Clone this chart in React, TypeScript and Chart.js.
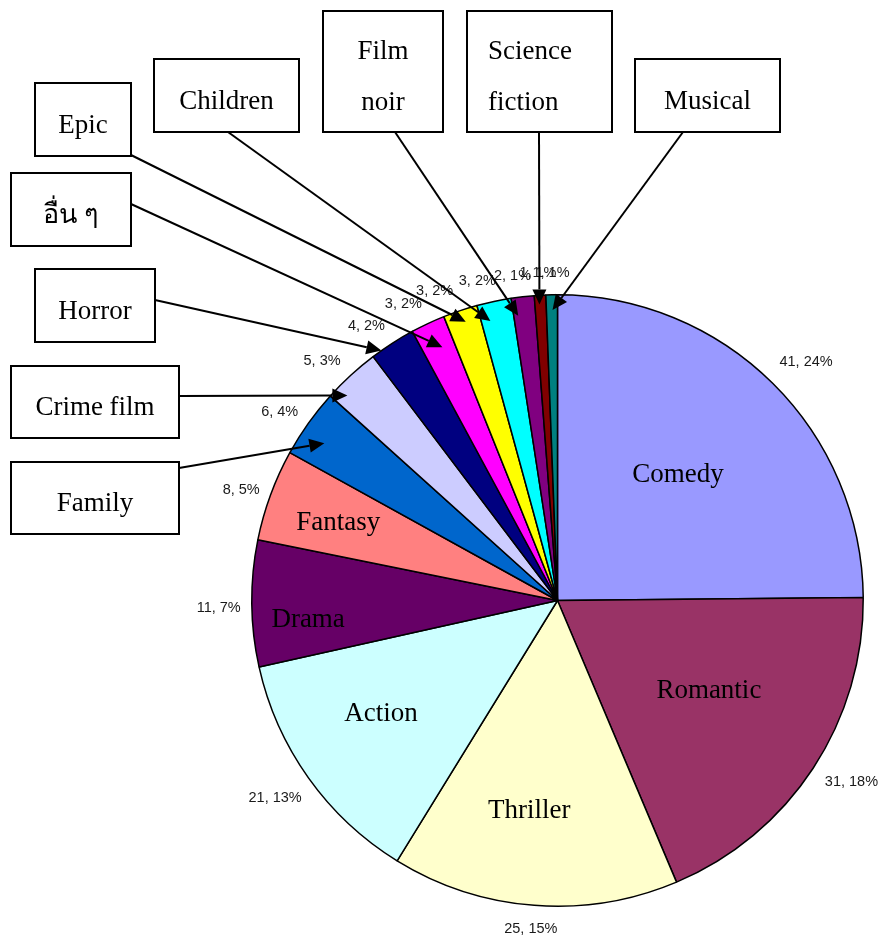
import React, { useEffect, useRef } from "react";
import { Chart, registerables } from "chart.js";

Chart.register(...registerables);

// ---- data ----
const categories = [
  "Comedy",
  "Romantic",
  "Thriller",
  "Action",
  "Drama",
  "Fantasy",
  "Family",
  "Crime film",
  "Horror",
  "อื่น ๆ",
  "Epic",
  "Children",
  "Film noir",
  "Science fiction",
  "Musical",
];
const counts = [41, 31, 25, 21, 11, 8, 6, 5, 4, 3, 3, 3, 2, 1, 1];
const percentLabels = [24, 18, 15, 13, 7, 5, 4, 3, 2, 2, 2, 2, 1, 1, 1];

// ---- styles ----
const sliceColors = [
  "#9999FF",
  "#993366",
  "#FFFFCC",
  "#CCFFFF",
  "#660066",
  "#FF8080",
  "#0066CC",
  "#CCCCFF",
  "#000080",
  "#FF00FF",
  "#FFFF00",
  "#00FFFF",
  "#800080",
  "#800000",
  "#008080",
];

const SERIF = '27px "Liberation Serif", "Times New Roman", "DejaVu Serif", serif';
const SANS = '14.5px "Liberation Sans", Arial, "DejaVu Sans", sans-serif';
const VALUE_GAP = 18;

// small position tweaks of the outside value labels (layout only)
const valueLabelNudge: [number, number][] = [
  [2, -4],
  [1, 1],
  [0, 0],
  [3, 6],
  [7, 4],
  [5, 3],
  [1, 3],
  [-4, 3],
  [-6, 3],
  [-9, 2],
  [-14, 3],
  [-9, 3],
  [-6, 3],
  [0, 2],
  [0, 2],
];

// [angular fraction within slice, radius fraction] for labels inside big slices
const innerLabelPos: Record<string, [number, number]> = {
  Comedy: [0.49, 0.569],
  Romantic: [0.465, 0.577],
  Thriller: [0.561, 0.693],
  Action: [0.56, 0.686],
  Drama: [0.34, 0.818],
  Fantasy: [0.46, 0.761],
};

type Callout = {
  box: [number, number, number, number];
  anchor: [number, number];
  at: [number, number]; // [angular fraction within slice, radius fraction]
  lines?: string[];
  align?: "left" | "center";
  textX?: number;
};

// callout boxes (layout only)
const callouts: Record<string, Callout> = {
  Family: { box: [11, 462, 168, 72], anchor: [179, 468], at: [0.39, 0.92] },
  "Crime film": { box: [11, 366, 168, 72], anchor: [179, 396], at: [0.21, 0.96] },
  Horror: { box: [35, 269, 120, 73], anchor: [155, 300], at: [0.22, 1.0] },
  "อื่น ๆ": { box: [11, 173, 120, 73], anchor: [131, 204], at: [0.6, 0.91] },
  Epic: { box: [35, 83, 96, 73], anchor: [131, 155], at: [0.55, 0.96] },
  Children: { box: [154, 59, 145, 73], anchor: [228, 132], at: [0.27, 0.94] },
  "Film noir": {
    box: [323, 11, 120, 121],
    anchor: [395, 132],
    at: [0.2, 0.94],
    lines: ["Film", "noir"],
  },
  "Science fiction": {
    box: [467, 11, 145, 121],
    anchor: [539, 132],
    at: [0.4, 0.97],
    lines: ["Science", "fiction"],
    align: "left",
    textX: 488,
  },
  Musical: { box: [635, 59, 145, 73], anchor: [683, 132], at: [0.55, 0.95] },
};

const labelPlugin = {
  id: "excelLabels",
  afterDatasetsDraw(chart: any) {
    const ctx: CanvasRenderingContext2D = chart.ctx;
    const meta = chart.getDatasetMeta(0);
    ctx.save();

    // value labels outside the pie
    ctx.font = SANS;
    ctx.fillStyle = "#1a1a1a";
    ctx.textAlign = "center";
    ctx.textBaseline = "middle";
    meta.data.forEach((arc: any, i: number) => {
      const { x, y, startAngle, endAngle, outerRadius } = arc.getProps(
        ["x", "y", "startAngle", "endAngle", "outerRadius"],
        true
      );
      const mid = (startAngle + endAngle) / 2;
      const dx = Math.cos(mid);
      const dy = Math.sin(mid);
      const text = `${counts[i]}, ${percentLabels[i]}%`;
      const w = ctx.measureText(text).width;
      const h = 12;
      const r = outerRadius + VALUE_GAP;
      const [nx, ny] = valueLabelNudge[i] || [0, 0];
      ctx.fillText(text, x + r * dx + (dx * w) / 2 + nx, y + r * dy + (dy * h) / 2 + ny);
    });

    // labels inside the big slices
    ctx.font = SERIF;
    ctx.fillStyle = "#000";
    meta.data.forEach((arc: any, i: number) => {
      const p = innerLabelPos[categories[i]];
      if (!p) return;
      const { x, y, startAngle, endAngle, outerRadius } = arc.getProps(
        ["x", "y", "startAngle", "endAngle", "outerRadius"],
        true
      );
      const a = startAngle + (endAngle - startAngle) * p[0];
      const r = p[1] * outerRadius;
      ctx.fillText(categories[i], x + r * Math.cos(a), y + r * Math.sin(a));
    });

    // callouts with arrows
    ctx.lineWidth = 2;
    ctx.strokeStyle = "#000";
    ctx.textBaseline = "alphabetic";
    Object.keys(callouts).forEach((name) => {
      const co = callouts[name];
      const i = categories.indexOf(name);
      if (i < 0) return;
      const arc = meta.data[i];
      const { x, y, startAngle, endAngle, outerRadius } = arc.getProps(
        ["x", "y", "startAngle", "endAngle", "outerRadius"],
        true
      );
      const a = startAngle + (endAngle - startAngle) * co.at[0];
      const tr = outerRadius * co.at[1];
      const tx = x + tr * Math.cos(a);
      const ty = y + tr * Math.sin(a);

      const [bx, by, bw, bh] = co.box;
      ctx.fillStyle = "#fff";
      ctx.fillRect(bx, by, bw, bh);
      ctx.strokeRect(bx, by, bw, bh);

      ctx.fillStyle = "#000";
      const lines = co.lines || [name];
      const lh = 51;
      const cy = by + bh / 2;
      const top = cy - (lines.length * lh) / 2;
      lines.forEach((ln, k) => {
        const by2 = top + k * lh + 38.5;
        if (co.align === "left") {
          ctx.textAlign = "left";
          ctx.fillText(ln, co.textX ?? bx + 10, by2);
        } else {
          ctx.textAlign = "center";
          ctx.fillText(ln, bx + bw / 2, by2);
        }
      });

      const [ax, ay] = co.anchor;
      const ang = Math.atan2(ty - ay, tx - ax);
      const L = 15;
      const HW = 7;
      const bpx = tx - L * Math.cos(ang);
      const bpy = ty - L * Math.sin(ang);
      ctx.beginPath();
      ctx.moveTo(ax, ay);
      ctx.lineTo(bpx, bpy);
      ctx.stroke();
      ctx.beginPath();
      ctx.moveTo(tx, ty);
      ctx.lineTo(bpx + HW * Math.sin(ang), bpy - HW * Math.cos(ang));
      ctx.lineTo(bpx - HW * Math.sin(ang), bpy + HW * Math.cos(ang));
      ctx.closePath();
      ctx.fill();
    });

    ctx.restore();
  },
};

export default function App() {
  const ref = useRef<HTMLCanvasElement>(null);

  useEffect(() => {
    const canvas = ref.current;
    if (!canvas) return;
    const chart = new Chart(canvas, {
      type: "pie",
      data: {
        labels: categories,
        datasets: [
          {
            data: counts,
            backgroundColor: sliceColors,
            borderColor: "#000",
            borderWidth: 1.5,
          },
        ],
      },
      options: {
        responsive: false,
        animation: false,
        layout: { padding: { left: 251, top: 294, right: 16, bottom: 28 } },
        plugins: {
          legend: { display: false },
          tooltip: { enabled: false },
        },
      },
      plugins: [labelPlugin],
    } as any);
    return () => chart.destroy();
  }, []);

  return (
    <div
      style={{
        position: "absolute",
        left: 0,
        top: 0,
        width: 880,
        height: 935,
        background: "#fff",
      }}
    >
      <canvas ref={ref} width={880} height={935} style={{ display: "block" }} />
    </div>
  );
}
